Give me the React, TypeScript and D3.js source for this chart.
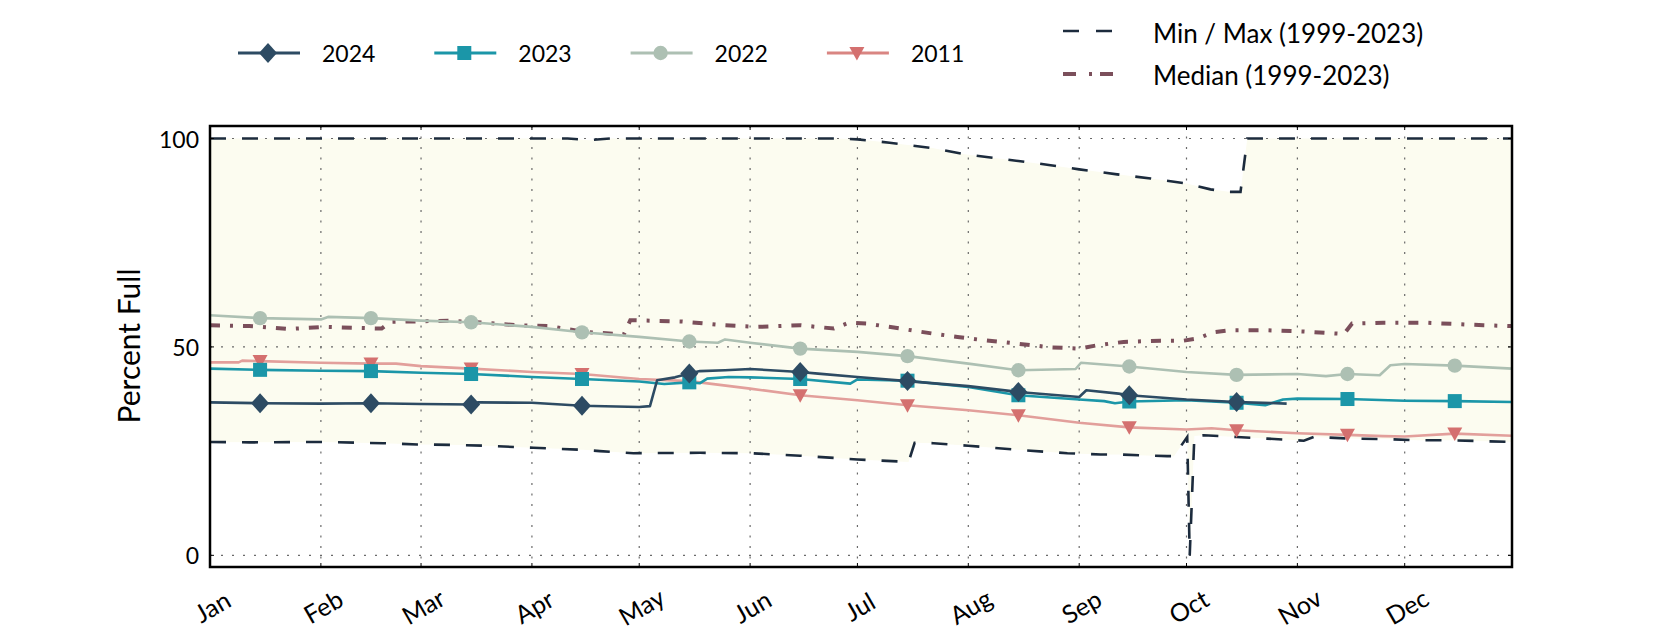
import React from "react";
import * as d3 from "d3";

type P = [number, number];

const monthLabels = ["Jan", "Feb", "Mar", "Apr", "May", "Jun", "Jul", "Aug", "Sep", "Oct", "Nov", "Dec"];
const monthStartDays = [0, 31, 59, 90, 120, 151, 181, 212, 243, 273, 304, 334];
const markerDays = [14, 45, 73, 104, 134, 165, 195, 226, 257, 287, 318, 348];
const yTicks = [0, 50, 100];

const s2024: P[] = [[0,36.7],[14,36.5],[31,36.4],[45,36.5],[59,36.3],[73,36.2],[75,36.7],[90,36.6],[104,35.9],[120,35.6],[123,35.8],[125,42.0],[130,42.7],[134,43.6],[137,44.2],[144,44.4],[151,44.7],[165,44.0],[170,43.6],[181,42.8],[195,41.8],[212,40.6],[226,39.2],[243,38.0],[245,39.6],[254,38.8],[257,38.4],[273,37.4],[287,36.8],[301,36.4]];
const s2023: P[] = [[0,44.8],[14,44.5],[31,44.3],[45,44.2],[59,43.8],[73,43.5],[90,42.8],[104,42.3],[120,41.7],[127,41.1],[134,41.5],[137,41.3],[139,42.4],[145,42.8],[151,42.7],[165,42.3],[179,41.2],[181,42.2],[195,41.9],[212,40.4],[226,38.4],[243,37.4],[250,37.0],[253,36.5],[257,36.9],[273,37.2],[287,36.6],[295,36.0],[300,37.4],[304,37.6],[318,37.5],[334,37.1],[348,37.0],[364,36.8]];
const s2022: P[] = [[0,57.6],[14,56.9],[31,56.6],[33,57.2],[45,56.9],[59,56.3],[73,55.9],[90,54.8],[104,53.5],[120,52.4],[134,51.3],[142,51.0],[144,51.8],[151,51.0],[165,49.6],[181,48.8],[195,47.8],[212,46.0],[226,44.4],[242,44.7],[243.5,46.2],[257,45.3],[273,44.0],[287,43.3],[304,43.5],[312,43.0],[318,43.5],[327,43.2],[330,45.6],[334,45.9],[348,45.5],[364,44.8]];
const s2011: P[] = [[0,46.3],[8,46.3],[9,46.7],[14,46.6],[31,46.2],[45,46.0],[52,46.0],[59,45.4],[73,44.8],[90,44.0],[104,43.5],[120,42.3],[134,41.8],[151,40.0],[165,38.4],[181,37.2],[195,36.0],[212,34.8],[226,33.6],[243,31.8],[257,30.7],[273,30.2],[280,30.5],[287,30.0],[304,29.3],[318,28.9],[328,28.6],[334,28.5],[348,29.2],[364,28.7]];
const median: P[] = [[0,55.2],[11,55.0],[22,54.3],[32,54.8],[48,54.4],[50.4,56.0],[67,56.3],[76.5,55.8],[86,55.2],[95,55.0],[104.5,53.6],[115.7,53.0],[117.5,56.4],[123,56.3],[132,56.1],[143.6,55.2],[153,54.8],[165,55.2],[174.4,54.4],[178.6,55.8],[183.7,55.6],[193,54.4],[202,53.2],[209,52.4],[214.5,51.8],[225.6,50.8],[235,49.9],[243,49.6],[248,50.4],[255.4,51.2],[265.7,51.5],[272.2,51.5],[276,52.0],[280.6,53.5],[285.3,54.0],[295.5,54.0],[305.8,53.7],[317,53.1],[319.3,55.6],[328,55.8],[340,55.8],[356,55.2],[364,55.0]];
const maxLine: P[] = [[0,100],[100,100],[106,99.6],[112,100],[175,100],[181,99.8],[190,99.0],[202,97.7],[211,96.2],[226,94.6],[235,93.6],[243,92.6],[253.6,91.4],[263,90.4],[273,89.2],[279.7,87.8],[284.8,87.2],[288.1,87.2],[290,100],[364,100]];
const minLine: P[] = [[0,27.2],[11,27.1],[31,27.2],[48.5,26.9],[58,26.6],[67,26.5],[76.5,26.3],[90.4,25.8],[104.5,25.3],[109,25.0],[118.4,24.5],[137,24.6],[151,24.5],[165,23.9],[181,23.0],[195.3,22.4],[197,27.0],[202.3,26.9],[212,26.3],[225.8,25.3],[239.7,24.5],[249,24.2],[253.6,24.2],[267.6,23.8],[269.5,23.8],[273.2,28.4],[273.9,0],[275.2,28.6],[277.8,28.8],[287,28.4],[295.5,28.0],[304,27.6],[305.8,27.5],[308.6,28.4],[318.8,28.0],[328,27.9],[337.5,27.6],[346.8,27.6],[364,27.2]];

type Marker = "diamond" | "square" | "circle" | "tri";
const seriesList: { label: string; data: P[]; line: string; mark: string; marker: Marker }[] = [
  { label: "2024", data: s2024, line: "#2d4b63", mark: "#2d4b63", marker: "diamond" },
  { label: "2023", data: s2023, line: "#1b96a8", mark: "#1b96a8", marker: "square" },
  { label: "2022", data: s2022, line: "#adc0b3", mark: "#adc0b3", marker: "circle" },
  { label: "2011", data: s2011, line: "#e29f9b", mark: "#d4706f", marker: "tri" },
];

const FONT = "Lato, 'Open Sans', sans-serif";
const L = 210, R = 1512, T = 126, B = 567;

function MarkerShape({ kind, cx, cy, color }: { kind: Marker; cx: number; cy: number; color: string }) {
  if (kind === "diamond") return <path d={`M${cx},${cy - 10}L${cx + 9},${cy}L${cx},${cy + 10}L${cx - 9},${cy}Z`} fill={color} />;
  if (kind === "square") return <rect x={cx - 7} y={cy - 7} width={14} height={14} fill={color} />;
  if (kind === "circle") return <circle cx={cx} cy={cy} r={7.2} fill={color} />;
  return <path d={`M${cx - 7.5},${cy - 6}L${cx + 7.5},${cy - 6}L${cx},${cy + 7.5}Z`} fill={color} />;
}

export default function App() {
  const x = d3.scaleLinear().domain([0, 364]).range([L, R]);
  const y = d3.scaleLinear().domain([-2.8, 103]).range([B, T]);
  const line = d3.line<P>().x((d) => x(d[0])).y((d) => y(d[1]));
  const band = line([...maxLine, ...minLine.slice().reverse()]) + "Z";
  const drawOrder = seriesList.slice().reverse();
  const labY = 606;

  return (
    <svg width={1680} height={630} style={{ position: "absolute", left: 0, top: 0, fontFamily: FONT }}>
      <defs>
        <clipPath id="plotclip">
          <rect x={L} y={T} width={R - L} height={B - T} />
        </clipPath>
      </defs>
      <g clipPath="url(#plotclip)">
        <path d={band} fill="#fcfcf0" stroke="none" />
        {monthStartDays.slice(1).map((d) => (
          <line key={d} x1={x(d)} x2={x(d)} y1={T} y2={B} stroke="#6a6a6a" strokeWidth={1.2} strokeDasharray="2,8.5" />
        ))}
        {yTicks.map((v) => (
          <line key={v} x1={L} x2={R} y1={y(v)} y2={y(v)} stroke="#6a6a6a" strokeWidth={1.2} strokeDasharray="2,9" />
        ))}
        <path d={line(maxLine)!} fill="none" stroke="#1c2b3d" strokeWidth={2.6} strokeDasharray="16,16" />
        <path d={line(minLine)!} fill="none" stroke="#1c2b3d" strokeWidth={2.6} strokeDasharray="16,16" />
        <path d={line(median)!} fill="none" stroke="#7b4f5b" strokeWidth={4} strokeDasharray="10,10,3,10" />
        {drawOrder.map((s) => (
          <g key={s.label}>
            <path d={line(s.data)!} fill="none" stroke={s.line} strokeWidth={2.6} strokeLinejoin="round" />
            {s.data
              .filter((p) => markerDays.includes(p[0]))
              .map((p) => (
                <MarkerShape key={p[0]} kind={s.marker} cx={x(p[0])} cy={y(p[1])} color={s.mark} />
              ))}
          </g>
        ))}
      </g>
      {monthStartDays.slice(1).map((d) => (
        <g key={"t" + d}>
          <line x1={x(d)} x2={x(d)} y1={B} y2={B - 4} stroke="#000" strokeWidth={1} />
          <line x1={x(d)} x2={x(d)} y1={T} y2={T + 4} stroke="#000" strokeWidth={1} />
        </g>
      ))}
      {yTicks.map((v) => (
        <g key={"yt" + v}>
          <line x1={L} x2={L + 4} y1={y(v)} y2={y(v)} stroke="#000" strokeWidth={1} />
          <line x1={R} x2={R - 4} y1={y(v)} y2={y(v)} stroke="#000" strokeWidth={1} />
          <text x={199} y={y(v)} textAnchor="end" dominantBaseline="central" fontSize={23} fill="#000">
            {v}
          </text>
        </g>
      ))}
      <rect x={L} y={T} width={R - L} height={B - T} fill="none" stroke="#000" strokeWidth={2.5} />
      {monthStartDays.map((d, i) => (
        <text
          key={"m" + i}
          x={x(d) + 2}
          y={labY}
          textAnchor="middle"
          dominantBaseline="central"
          fontSize={25}
          transform={`rotate(-30, ${x(d) + 2}, ${labY})`}
        >
          {monthLabels[i]}
        </text>
      ))}
      <text x={128} y={346} textAnchor="middle" dominantBaseline="central" fontSize={30} transform="rotate(-90, 128, 346)">
        Percent Full
      </text>
      {seriesList.map((s, i) => {
        const x0 = 238 + i * 196.3;
        return (
          <g key={"lg" + s.label}>
            <line x1={x0} x2={x0 + 62} y1={53} y2={53} stroke={s.marker === "tri" ? "#d98582" : s.line} strokeWidth={3} />
            <MarkerShape kind={s.marker} cx={x0 + 30} cy={53} color={s.mark} />
            <text x={x0 + 84} y={53} dominantBaseline="central" fontSize={23}>
              {s.label}
            </text>
          </g>
        );
      })}
      <line x1={1063} x2={1113} y1={31} y2={31} stroke="#1c2b3d" strokeWidth={2.6} strokeDasharray="16,17" />
      <text x={1153} y={33} dominantBaseline="central" fontSize={26}>
        Min / Max (1999-2023)
      </text>
      <line x1={1063} x2={1113} y1={74} y2={74} stroke="#7b4f5b" strokeWidth={4} strokeDasharray="13,13,3,8" />
      <text x={1153} y={75} dominantBaseline="central" fontSize={26}>
        Median (1999-2023)
      </text>
    </svg>
  );
}
